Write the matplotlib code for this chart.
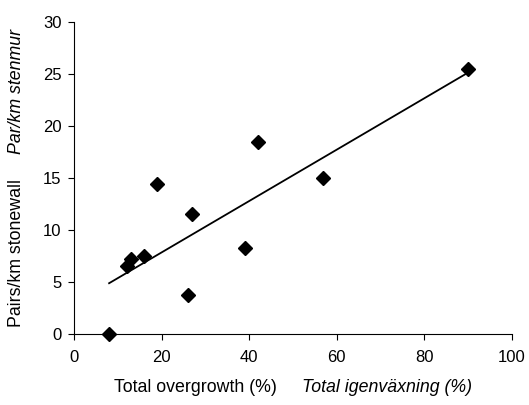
import numpy as np
import matplotlib
matplotlib.use("Agg")
import matplotlib.pyplot as plt

plt.rcParams['font.family'] = ['Liberation Sans', 'DejaVu Sans']

overgrowth = [8.0, 12.0, 12.9, 16.0, 19.0, 25.9, 27.0, 39.1, 41.9, 56.9, 90.0]
pairs = [0.0, 6.6, 7.2, 7.5, 14.4, 3.8, 11.6, 8.3, 18.5, 15.0, 25.5]
xticks = [0, 20, 40, 60, 80, 100]
yticks = [0, 5, 10, 15, 20, 25, 30]
xlabel_en = 'Total overgrowth (%)'
xlabel_sv = 'Total igenväxning (%)'
ylabel_en = 'Pairs/km stonewall'
ylabel_sv = 'Par/km stenmur'

W, H = 529, 405
fig = plt.figure(figsize=(W / 100, H / 100), dpi=100)
ax_l, ax_b, ax_w, ax_h = 0.14, 0.1746, 0.828, 0.7706
ax = fig.add_axes([ax_l, ax_b, ax_w, ax_h])

x = np.array(overgrowth)
y = np.array(pairs)
slope, intercept = np.polyfit(x, y, 1)
xl = np.array([x.min(), x.max()])
ax.plot(xl, slope * xl + intercept, color='black', lw=1.3, zorder=2)
ax.plot(x, y, linestyle='none', marker='D', markersize=7.3, color='black', zorder=3, clip_on=False)

ax.set_xlim(0, 100)
ax.set_ylim(0, 30)
ax.set_xticks(xticks)
ax.set_yticks(yticks)
ax.spines['top'].set_visible(False)
ax.spines['right'].set_visible(False)
for s in ['left', 'bottom']:
    ax.spines[s].set_linewidth(0.8)
ax.tick_params(axis='both', direction='out', length=4, width=0.8, labelsize=12)
ax.tick_params(axis='x', pad=7)
ax.tick_params(axis='y', pad=5)

fs = 12.8
gap = 25
fig.canvas.draw()
r = fig.canvas.get_renderer()

# x label: two parts, centred below the axes
ty = 1 - 388 / H
t1 = fig.text(0, ty, xlabel_en, fontsize=fs, ha='left', va='center')
t2 = fig.text(0, ty, xlabel_sv, fontsize=fs, ha='left', va='center', style='italic')
w1 = t1.get_window_extent(r).width
w2 = t2.get_window_extent(r).width
cx = (ax_l + ax_w / 2) * W
left = cx - (w1 + gap + w2) / 2
t1.set_x(left / W)
t2.set_x((left + w1 + gap) / W)

# y label: two parts, centred beside the axes
tx = 17 / W
u1 = fig.text(tx, 0, ylabel_en, fontsize=fs, rotation=90, ha='center', va='bottom')
u2 = fig.text(tx, 0, ylabel_sv, fontsize=fs, rotation=90, ha='center', va='bottom', style='italic')
h1 = u1.get_window_extent(r).height
h2 = u2.get_window_extent(r).height
cy = (ax_b + ax_h / 2) * H
bottom = cy - (h1 + gap + h2) / 2
u1.set_y(bottom / H)
u2.set_y((bottom + h1 + gap) / H)

fig.savefig('out.png', dpi=100)
